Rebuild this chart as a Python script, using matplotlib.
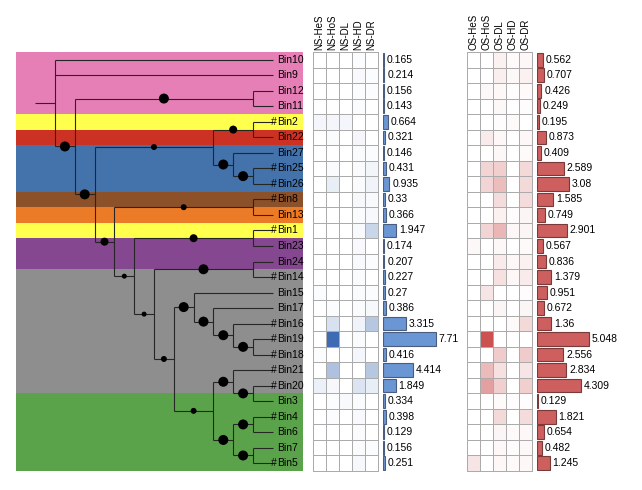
import matplotlib
matplotlib.use("Agg")
import matplotlib.pyplot as plt
import numpy as np
from matplotlib.colors import LinearSegmentedColormap

plt.rcParams['font.family'] = ['Liberation Sans', 'DejaVu Sans']

# tree: internal node = (support, [children]), leaf = name ("#" marks flagged bins)
tree = (None, ["Bin10", "Bin9",
    (100, [(100, ["Bin12", "Bin11"]),
           (100, [(60, [(80, ["#Bin2", "Bin22"]),
                        (100, ["Bin27", (100, ["#Bin25", "#Bin26"])])]),
                  (80, [(60, ["#Bin8", "Bin13"]),
                        (50, [(80, ["#Bin1", "Bin23"]),
                              (50, [(100, ["Bin24", "#Bin14"]),
                                    (60, [(100, ["Bin15", (100, ["Bin17", (100, ["#Bin16", (100, ["#Bin19", "#Bin18"])])])]),
                                          (60, [(100, ["#Bin21", (100, ["#Bin20", "Bin3"])]),
                                                (100, [(100, ["#Bin4", "Bin6"]), (100, ["Bin7", "#Bin5"])])])])])])])])])])

# background clade colours, top to bottom, and number of rows each
clade_colors = ["#E67FB5", "#FFFF4D", "#CB3224", "#4472AB", "#8C5129",
                "#EC7B27", "#FFFF4D", "#85478F", "#8E8E8E", "#5BA34B"]
clade_rows = [4, 1, 1, 3, 1, 1, 1, 2, 8, 5]

ns_cols = ["NS-HeS", "NS-HoS", "NS-DL", "NS-HD", "NS-DR"]
os_cols = ["OS-HeS", "OS-HoS", "OS-DL", "OS-HD", "OS-DR"]

ns_heat = np.array([
    [0.00, 0.00, 0.00, 0.02, 0.00],
    [0.00, 0.00, 0.00, 0.04, 0.02],
    [0.00, 0.00, 0.00, 0.02, 0.02],
    [0.00, 0.00, 0.00, 0.02, 0.00],
    [0.06, 0.06, 0.06, 0.00, 0.00],
    [0.00, 0.03, 0.00, 0.06, 0.00],
    [0.00, 0.00, 0.00, 0.03, 0.02],
    [0.00, 0.03, 0.00, 0.03, 0.07],
    [0.00, 0.12, 0.00, 0.03, 0.08],
    [0.00, 0.00, 0.00, 0.05, 0.04],
    [0.00, 0.00, 0.00, 0.03, 0.05],
    [0.00, 0.00, 0.00, 0.04, 0.28],
    [0.00, 0.00, 0.00, 0.04, 0.00],
    [0.00, 0.00, 0.00, 0.04, 0.02],
    [0.00, 0.00, 0.00, 0.03, 0.00],
    [0.02, 0.00, 0.00, 0.03, 0.02],
    [0.00, 0.02, 0.00, 0.03, 0.05],
    [0.00, 0.20, 0.00, 0.08, 0.38],
    [0.00, 1.00, 0.00, 0.03, 0.00],
    [0.02, 0.00, 0.00, 0.06, 0.00],
    [0.00, 0.42, 0.00, 0.00, 0.38],
    [0.10, 0.05, 0.00, 0.18, 0.12],
    [0.00, 0.02, 0.04, 0.03, 0.00],
    [0.00, 0.02, 0.00, 0.04, 0.00],
    [0.00, 0.00, 0.00, 0.03, 0.00],
    [0.00, 0.00, 0.00, 0.03, 0.02],
    [0.00, 0.00, 0.00, 0.05, 0.00],
])

os_heat = np.array([
    [0.00, 0.00, 0.08, 0.03, 0.05],
    [0.00, 0.00, 0.10, 0.04, 0.08],
    [0.00, 0.04, 0.05, 0.02, 0.03],
    [0.00, 0.00, 0.04, 0.00, 0.02],
    [0.00, 0.00, 0.02, 0.03, 0.00],
    [0.00, 0.12, 0.05, 0.00, 0.05],
    [0.00, 0.00, 0.04, 0.00, 0.03],
    [0.00, 0.25, 0.28, 0.00, 0.22],
    [0.00, 0.25, 0.38, 0.00, 0.22],
    [0.00, 0.00, 0.20, 0.00, 0.20],
    [0.00, 0.00, 0.08, 0.02, 0.06],
    [0.00, 0.25, 0.42, 0.05, 0.06],
    [0.04, 0.00, 0.05, 0.00, 0.03],
    [0.00, 0.00, 0.12, 0.05, 0.08],
    [0.00, 0.00, 0.18, 0.05, 0.12],
    [0.00, 0.15, 0.00, 0.00, 0.02],
    [0.00, 0.00, 0.06, 0.00, 0.06],
    [0.00, 0.00, 0.00, 0.03, 0.22],
    [0.00, 1.00, 0.00, 0.00, 0.00],
    [0.00, 0.00, 0.30, 0.00, 0.30],
    [0.00, 0.40, 0.18, 0.00, 0.15],
    [0.00, 0.55, 0.28, 0.00, 0.28],
    [0.00, 0.00, 0.03, 0.02, 0.02],
    [0.00, 0.00, 0.22, 0.00, 0.20],
    [0.00, 0.00, 0.06, 0.03, 0.05],
    [0.00, 0.00, 0.05, 0.02, 0.04],
    [0.15, 0.00, 0.05, 0.03, 0.05],
])

ns_bar = [0.165, 0.214, 0.156, 0.143, 0.664, 0.321, 0.146, 0.431, 0.935, 0.33,
          0.366, 1.947, 0.174, 0.207, 0.227, 0.27, 0.386, 3.315, 7.71, 0.416,
          4.414, 1.849, 0.334, 0.398, 0.129, 0.156, 0.251]
os_bar = [0.562, 0.707, 0.426, 0.249, 0.195, 0.873, 0.409, 2.589, 3.08, 1.585,
          0.749, 2.901, 0.567, 0.836, 1.379, 0.951, 0.672, 1.36, 5.048, 2.556,
          2.834, 4.309, 0.129, 1.821, 0.654, 0.482, 1.245]

W, H = 642, 490
TOP, BOT = 52, 471
fig = plt.figure(figsize=(W / 100, H / 100), dpi=100)


def px_axes(x0, x1):
    ax = fig.add_axes([x0 / W, 1 - BOT / H, (x1 - x0) / W, (BOT - TOP) / H])
    ax.set_ylim(len(ns_bar) - 0.5, -0.5)
    ax.axis("off")
    return ax


# ---- tree layout ----
leaves = []
node_info = {}


def layout(node):
    # returns (y, height); leaves get consecutive rows
    if isinstance(node, str):
        leaves.append(node)
        return len(leaves) - 1, 0
    sup, kids = node
    res = [layout(k) for k in kids]
    h = max(r[1] for r in res) + 1
    y = (res[0][0] + res[-1][0]) / 2
    node_info[id(node)] = (y, h, res)
    return y, h


layout(tree)
TIP = node_info[id(tree)][1]
segs, dots = [], []


def draw(node, parent_x):
    if isinstance(node, str):
        return
    y, h, res = node_info[id(node)]
    x = TIP - h
    sup, kids = node
    if sup is not None:
        dots.append(((parent_x + x) / 2, y, sup))
    segs.append(([x, x], [res[0][0], res[-1][0]]))
    for k, (ky, kh) in zip(kids, res):
        kx = TIP if isinstance(k, str) else TIP - kh
        segs.append(([x, kx], [ky, ky]))
        draw(k, x)


draw(tree, None)
root_y, root_h, _ = node_info[id(tree)]
segs.append(([TIP - root_h - 1, TIP - root_h], [root_y, root_y]))

step = 19.8
ax = px_axes(16, 303)
ax.set_xlim((16 - 55) / step, (303 - 55) / step)
start = -0.5
for c, n in zip(clade_colors, clade_rows):
    ax.axhspan(start, start + n, color=c, lw=0)
    start += n
for xs, ys in segs:
    ax.plot(xs, ys, color="#262626", lw=0.8, solid_capstyle="butt")
dx, dy, ds = zip(*dots)
ax.scatter(dx, dy, s=[(v / 10 * 0.72) ** 2 for v in ds], color="black", zorder=3, lw=0)
lab_x = TIP + 4 / step
for i, name in enumerate(leaves):
    ax.text(lab_x, i, name.lstrip("#"), ha="left", va="center", fontsize=7.5)
    if name.startswith("#"):
        ax.text(lab_x - 0.03, i, "#", ha="right", va="center", fontsize=7.5)


def heatmap(x0, data, cols, top_color):
    ax = px_axes(x0, x0 + 65)
    cmap = LinearSegmentedColormap.from_list("c", ["white", top_color])
    ax.pcolormesh(np.arange(6), np.arange(len(data) + 1) - 0.5, data, cmap=cmap,
                  vmin=0, vmax=1, edgecolors="#ABABAB", linewidth=0.6, clip_on=False)
    ax.set_xlim(0, 5)
    for j, c in enumerate(cols):
        ax.text(j + 0.5, -0.62, c, rotation=90, ha="center", va="bottom", fontsize=7)


def bars(x0, vals, px_per_unit, fc, ec):
    ax = px_axes(x0, 642)
    ax.set_xlim(0, (642 - x0) / px_per_unit)
    ax.barh(range(len(vals)), vals, height=0.88, color=fc, edgecolor=ec, lw=0.8)
    for i, v in enumerate(vals):
        ax.annotate("{:g}".format(v), (v, i), xytext=(2, 0), textcoords="offset points",
                    va="center", ha="left", fontsize=7.5)


heatmap(313, ns_heat, ns_cols, "#3E6BB4")
bars(383, ns_bar, 53 / 7.71, "#6A96D3", "#4A5D80")
heatmap(467, os_heat, os_cols, "#CC5252")
bars(537, os_bar, 52 / 5.048, "#CD5F5F", "#7A3A3A")

fig.savefig("out.png", dpi=100)
